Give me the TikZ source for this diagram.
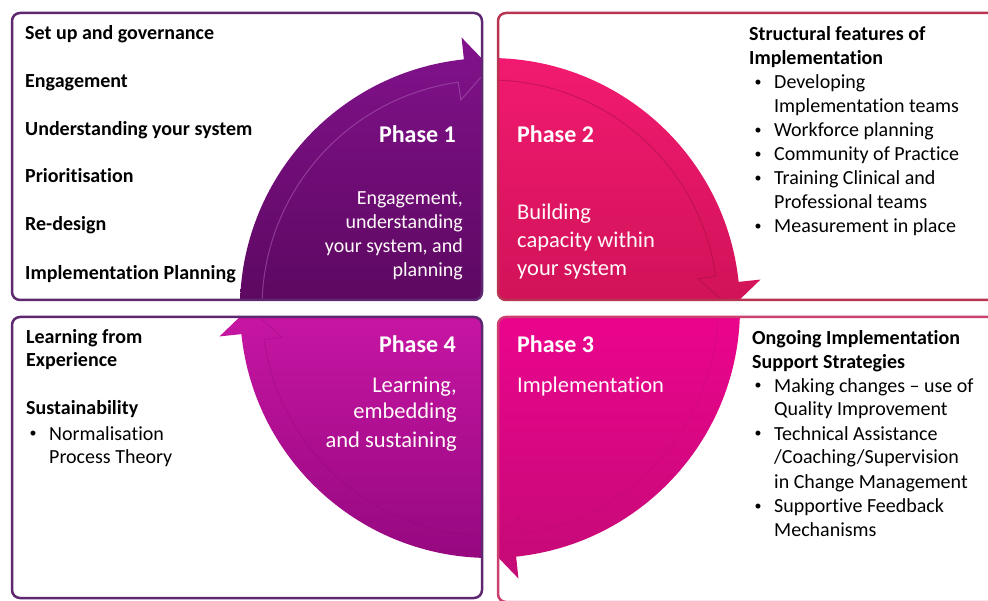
\documentclass[tikz,border=0pt]{standalone}
\usepackage{fontspec}
\setmainfont[Ligatures=NoCommon]{Carlito}
\usetikzlibrary{calc}
\definecolor{phaOneTop}{RGB}{130,18,140}
\definecolor{phaOneBot}{RGB}{92,8,96}
\definecolor{phaTwoTop}{RGB}{242,26,112}
\definecolor{phaTwoBot}{RGB}{208,18,88}
\definecolor{phaThreeTop}{RGB}{236,4,142}
\definecolor{phaThreeBot}{RGB}{196,10,118}
\definecolor{phaFourTop}{RGB}{200,22,164}
\definecolor{phaFourBot}{RGB}{150,8,128}
\definecolor{rimPurple}{RGB}{93,40,112}
\definecolor{rimRed}{RGB}{184,52,82}
\definecolor{rimPink}{RGB}{204,64,112}
\tikzset{
  panel/.style={
    line width=2.5pt,
    rounded corners=8pt,
  }
}
\tikzset{
  item/.style={
    anchor=base west,
    inner sep=0pt,
    font=\fontsize{20}{24}\selectfont,
  },
  head/.style={
    item,
    font=\fontsize{20}{24}\selectfont\bfseries,
  },
  dot/.style={
    item,
    anchor=base,
    font=\fontsize{14}{24}\selectfont,
    yshift=2pt,
  },
  phase/.style={
    inner sep=0pt,
    text=white,
    font=\fontsize{24}{28}\selectfont\bfseries,
  },
  desc/.style={
    inner sep=0pt,
    text=white!92!pink,
    font=\fontsize{22.5}{28}\selectfont,
  }
}

\begin{document}
\begin{tikzpicture}[x=1pt,y=-1pt]
    \useasboundingbox (0,0) rectangle (988,601);
    \coordinate (C) at (490,308);

    % quarter arrows round the centre
    \foreach \s/\xa/\ya/\xb/\yb/\ct/\cb/\ln/\op in {
        -180/12/13/482/300/phaOneTop/phaOneBot/white!30!phaOneTop/0.6,
        -90/498/13/1000/300/phaTwoTop/phaTwoBot/phaTwoBot!80!black/0.5,
        0/498/317/1000/602/phaThreeTop/phaThreeBot/phaThreeBot!90!black/0.2,
        90/12/317/482/598/phaFourTop/phaFourBot/phaFourBot!90!black/0.25}{
      \begin{scope}
        \clip[rounded corners=8pt] (\xa,\ya) rectangle (\xb,\yb);
        \shade[top color=\ct, bottom color=\cb]
          (C) -- ($(C)+(\s:250)$) arc[start angle=\s, end angle=\s+84, radius=250]
          -- ($(C)+(\s+84:272)$) -- ($(C)+(\s+90:241)$) -- cycle;
        \draw[\ln, line width=1pt, opacity=\op]
          ($(C)+(\s:228)$) arc[start angle=\s, end angle=\s+82, radius=228]
          -- ($(C)+(\s+82:210)$) -- ($(C)+(\s+90:241)$);
      \end{scope}
    }

    % frames
    \draw[panel, rimPurple] (12,13) rectangle (482,300);
    \draw[panel, rimRed] (498,13) rectangle (1000,300);
    \draw[panel, rimPurple] (12,317) rectangle (482,598);
    \draw[panel, rimPink] (498,317) rectangle (1000,602);

    % phase titles
    \node[phase, anchor=base east] (p1) at (456,143) {Phase 1};
    \node[phase, anchor=base west] (p2) at (517,143) {Phase 2};
    \node[phase, anchor=base west] (p3) at (517,353) {Phase 3};
    \node[phase, anchor=base east] (p4) at (456,353) {Phase 4};

    \foreach \t/\y [count=\i] in {{Engagement,}/205, understanding/229,
        {your system, and}/253, planning/277}{
      \node[desc, anchor=base east, font=\fontsize{20}{24}\selectfont]
        (d1\i) at (463,\y) {\t};
    }
    \foreach \t/\y [count=\i] in {Building/220, capacity within/248, your system/276}{
      \node[desc, anchor=base west] (d2\i) at (517,\y) {\t};
    }
    \node[desc, anchor=base west] (d31) at (517,393) {Implementation};
    \foreach \t/\y [count=\i] in {{Learning,}/392, embedding/419, and sustaining/447}{
      \node[desc, anchor=base east] (d4\i) at (457,\y) {\t};
    }

    % top left: tasks
    \foreach \t/\y [count=\i] in {Set up and governance/40, Engagement/88,
        Understanding your system/136, Prioritisation/183, Re-design/231,
        Implementation Planning/280}{
      \node[head] (task\i) at (25,\y) {\t};
    }

    % top right: structural features
    \node[head] (sf1) at (749,41) {Structural features of};
    \node[head] (sf2) at (749,65) {Implementation};
    \foreach \t/\y [count=\i] in {Developing/89, Implementation teams/113,
        Workforce planning/137, Community of Practice/161,
        Training Clinical and/185, Professional teams/209,
        Measurement in place/233}{
      \node[item] (sfi\i) at (774,\y) {\t};
    }
    \foreach \y [count=\i] in {89,137,161,185,233}{
      \node[dot] (sfb\i) at (758,\y) {•};
    }

    % bottom right: support strategies
    \node[head] (ss1) at (752,345) {Ongoing Implementation};
    \node[head] (ss2) at (752,369) {Support Strategies};
    \foreach \t/\y [count=\i] in {Making changes – use of/392,
        Quality Improvement/416, Technical Assistance/440,
        {/Coaching/Supervision}/464, in Change Management/488,
        Supportive Feedback/512, Mechanisms/536}{
      \node[item] (ssi\i) at (774,\y) {\t};
    }
    \foreach \y [count=\i] in {392,440,512}{
      \node[dot] (ssb\i) at (758,\y) {•};
    }

    % bottom left: learning
    \node[head] (lf1) at (26,344) {Learning from};
    \node[head] (lf2) at (26,367) {Experience};
    \node[head] (lf3) at (26,415) {Sustainability};
    \node[dot] (lfb1) at (33,440) {•};
    \node[item] (lfi1) at (49,440) {Normalisation};
    \node[item] (lfi2) at (49,463) {Process Theory};

  \end{tikzpicture}
\end{document}
